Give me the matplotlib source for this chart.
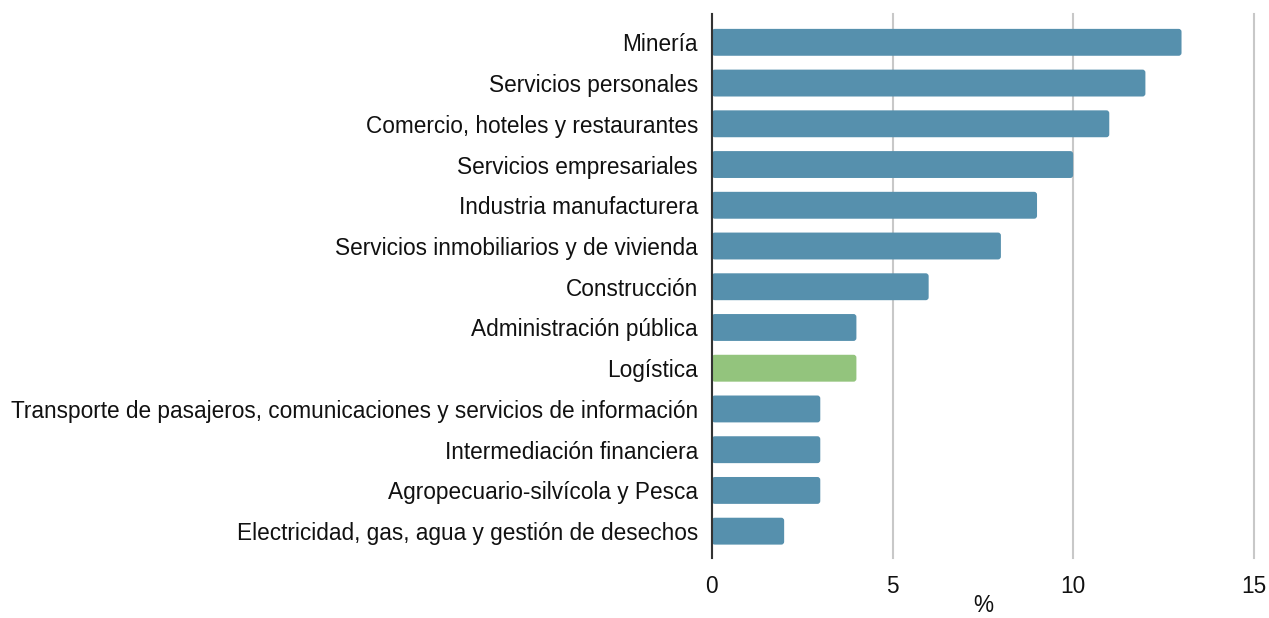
import matplotlib
matplotlib.use('Agg')
import matplotlib.pyplot as plt
from matplotlib.patches import FancyBboxPatch

plt.rcParams['font.family'] = ['Liberation Sans', 'DejaVu Sans']

sectores = [
    'Minería',
    'Servicios personales',
    'Comercio, hoteles y restaurantes',
    'Servicios empresariales',
    'Industria manufacturera',
    'Servicios inmobiliarios y de vivienda',
    'Construcción',
    'Administración pública',
    'Logística',
    'Transporte de pasajeros, comunicaciones y servicios de información',
    'Intermediación financiera',
    'Agropecuario-silvícola y Pesca',
    'Electricidad, gas, agua y gestión de desechos',
]
valores = [13, 12, 11, 10, 9, 8, 6, 4, 4, 3, 3, 3, 2]
destacado = 'Logística'

azul = '#5690ad'
verde = '#93c47d'
colores = [verde if s == destacado else azul for s in sectores]

fig = plt.figure(figsize=(12.69, 6.18), dpi=100)
ax = fig.add_axes([0.561, 0.097, 0.427, 0.880])

pos = list(range(len(sectores)))
barras = ax.barh(pos, valores, height=0.66, color=colores)

# barras con esquinas redondeadas
for rect, c in zip(barras.patches, colores):
    rect.set_visible(False)
    fb = FancyBboxPatch((rect.get_x(), rect.get_y()), rect.get_width(), rect.get_height(),
                        boxstyle='round,pad=0,rounding_size=0.08', mutation_aspect=0.89,
                        facecolor=c, edgecolor='none', zorder=2)
    ax.add_patch(fb)

fs = 16.3
ax.set_yticks(pos)
ax.set_yticklabels(sectores, fontsize=fs, color='#111111')
ax.set_ylim(len(sectores) - 1 + 0.66, -0.69)
ax.set_xlim(0, 15)
ax.set_xticks([0, 5, 10, 15])
ax.tick_params(axis='x', labelsize=fs, length=0, pad=12, colors='#111111')
ax.tick_params(axis='y', length=0, pad=10)
ax.set_xlabel('%', fontsize=fs, labelpad=-3, color='#111111')

ax.grid(axis='x', color='#c8c8c8', linewidth=1.5, zorder=0)
for g in ax.xaxis.get_gridlines():
    g.set_clip_on(False)
ax.set_axisbelow(True)
for lado in ['top', 'right', 'bottom']:
    ax.spines[lado].set_visible(False)
ax.spines['left'].set_color('#333333')
ax.spines['left'].set_linewidth(1.5)
ax.spines['left'].set_zorder(3)

fig.savefig('out.png', dpi=100)
